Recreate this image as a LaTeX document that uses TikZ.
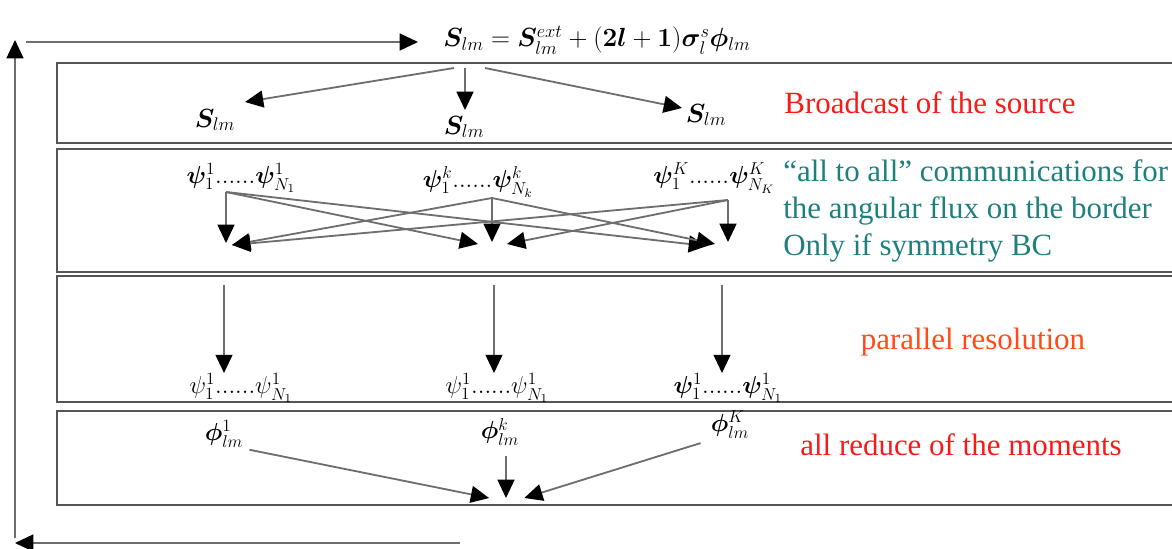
\documentclass[tikz,border=0pt]{standalone}
\usepackage{fix-cm}
\usepackage{fontspec}
\setmainfont{Liberation Serif}
\usepackage{amsmath,bm}
\usetikzlibrary{arrows.meta}
\definecolor{msgred}{RGB}{250,25,25}
\definecolor{msgteal}{RGB}{30,128,125}
\definecolor{msgorange}{RGB}{255,75,25}
\definecolor{linegray}{RGB}{85,85,85}

\begin{document}
\begin{tikzpicture}[x=0.025cm,y=-0.025cm]
    \tikzstyle{every node} = [font=\fontsize{22}{26}\selectfont, inner sep=0pt]
    \tikzstyle{band} = [draw=linegray, line width=2pt]
    \tikzstyle{flow} = [draw=linegray!85, line width=1.3pt, -{Triangle[length=13pt,width=12pt,color=black]}]
    \tikzstyle{flux} = [font=\fontsize{17.5}{21}\selectfont]
    \tikzstyle{eqn} = [font=\fontsize{18.7}{22}\selectfont]
    \useasboundingbox (0,0) rectangle (1172,548);

    % bands
    \draw[band] (57,63) rectangle (1200,143);
    \draw[band] (57,149) rectangle (1200,272);
    \draw[band] (57,276) rectangle (1200,402);
    \draw[band] (57,411) rectangle (1200,505);

    % place nodes
    \node[eqn] (source) at (597,40) {$\bm{S}_{lm} = \bm{S}^{ext}_{lm} + (\bm{2l}+\bm{1})\bm{\sigma}^{s}_{l}\bm{\phi}_{lm}$};
    \node[eqn] (srcA) at (215,120) {$\bm{S}_{lm}$};
    \node[eqn] (srcB) at (464,127) {$\bm{S}_{lm}$};
    \node[eqn] (srcC) at (706,115) {$\bm{S}_{lm}$};
    \node[text=msgred] (bcast) at (930,103) {Broadcast of the source};

    \node[flux] (fluxA) at (241,178) {$\bm{\psi}^1_1......\bm{\psi}^1_{N_1}$};
    \node[flux] (fluxB) at (478,182) {$\bm{\psi}^k_1......\bm{\psi}^k_{N_k}$};
    \node[flux] (fluxC) at (714,178) {$\bm{\psi}^K_1......\bm{\psi}^K_{N_K}$};
    \node[text=msgteal, anchor=west, align=left, font=\fontsize{22}{26.5}\selectfont] (alltoall) at (783,211)
        {``all to all'' communications for\\the angular flux on the border\\Only if symmetry BC};

    \node[flux] (solA) at (241,388) {$\psi^1_1......\psi^1_{N_1}$};
    \node[flux] (solB) at (497,388) {$\psi^1_1......\psi^1_{N_1}$};
    \node[flux] (solC) at (728,388) {$\bm{\psi}^1_1......\bm{\psi}^1_{N_1}$};
    \node[text=msgorange] (parres) at (973,342) {parallel resolution};

    \node[flux] (momA) at (224,434) {$\bm{\phi}^1_{lm}$};
    \node[flux] (momB) at (500,432) {$\bm{\phi}^k_{lm}$};
    \node[flux] (momC) at (730,425) {$\bm{\phi}^K_{lm}$};
    \node[text=msgred] (allred) at (961,445) {all reduce of the moments};

    % Coordinates
    \coordinate (loopTop) at (15,40);
    \coordinate (loopBot) at (15,538);
    \coordinate (feedIn) at (26,42);
    \coordinate (feedOut) at (418,42);
    \coordinate (backIn) at (460,543);
    \coordinate (backOut) at (15,543);
    \coordinate (split) at (465,68);
    \coordinate (toA) at (245,102);
    \coordinate (toB) at (465,110);
    \coordinate (toC) at (682,108);
    \coordinate (outA) at (226,192);
    \coordinate (outB) at (492,198);
    \coordinate (outC) at (728,200);
    \coordinate (inA) at (226,243);
    \coordinate (inAr) at (232,245);
    \coordinate (inB) at (492,242);
    \coordinate (inBl) at (478,244);
    \coordinate (inBr) at (507,244);
    \coordinate (inC) at (728,242);
    \coordinate (inCl) at (707,246);
    \coordinate (inCm) at (715,244);
    \coordinate (runA) at (224,285);
    \coordinate (runB) at (494,285);
    \coordinate (runC) at (722,285);
    \coordinate (sum) at (506,498);

    % Connections
    \draw[flow] (loopBot) -- (loopTop);
    \draw[flow] (feedIn) -- (feedOut);
    \draw[flow] (backIn) -- (backOut);

    \draw[flow] (split) ++(-11,0) -- (toA);
    \draw[flow] (split) -- (toB);
    \draw[flow] (split) ++(20,0) -- (toC);

    \draw[flow] (outA) -- (inA);
    \draw[flow] (outA) -- (inBl);
    \draw[flow] (outA) -- (inCl);
    \draw[flow] (outB) -- (inAr);
    \draw[flow] (outB) -- (inB);
    \draw[flow] (outB) -- (inCm);
    \draw[flow] (outC) -- (inAr);
    \draw[flow] (outC) -- (inBr);
    \draw[flow] (outC) -- (inC);

    \draw[flow] (runA) -- (runA |- solA.north);
    \draw[flow] (runB) -- (runB |- solB.north);
    \draw[flow] (runC) -- (runC |- solC.north);

    \draw[flow] (momA.south east) ++(6,2) -- ([xshift=-12]sum);
    \draw[flow] (momB.south) ++(6,10) -- (sum);
    \draw[flow] (momC.south west) ++(-10,4) -- ([xshift=13]sum);
\end{tikzpicture}
\end{document}
